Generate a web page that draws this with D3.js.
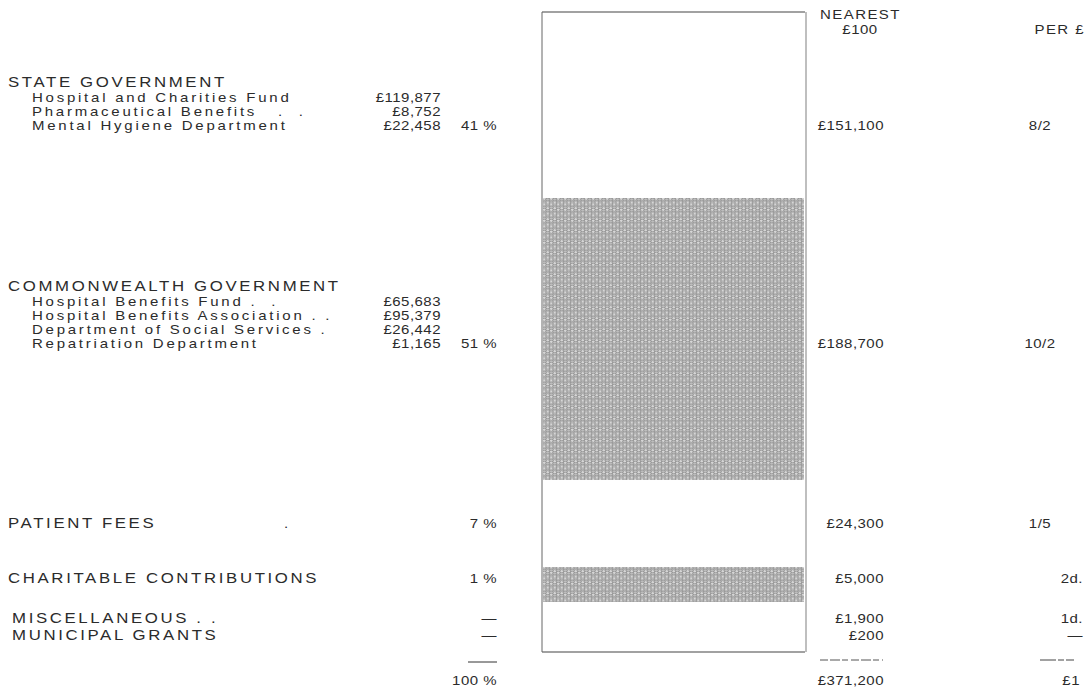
<!DOCTYPE html>
<html><head><meta charset="utf-8">
<script src="https://cdn.jsdelivr.net/npm/d3@7/dist/d3.min.js"></script>
<style>
html,body{margin:0;padding:0;background:#fff;}
text{font-family:"Liberation Sans",Arial,sans-serif;fill:#2b2b2b;white-space:pre;}
</style></head><body>
<svg id="c" width="1088" height="693"></svg>
<script>
// ---- data ----
const categories = ["STATE GOVERNMENT","COMMONWEALTH GOVERNMENT","PATIENT FEES","CHARITABLE CONTRIBUTIONS","MISCELLANEOUS . .","MUNICIPAL GRANTS"];
const percents = ["41 %","51 %","7 %","1 %","—","—"];
const amounts = [151100, 188700, 24300, 5000, 1900, 200];
const perPound = ["8/2","10/2","1/5","2d.","1d.","—"];
const shaded = [false, true, false, true, false, false];
const stateItems = ["Hospital and Charities Fund","Pharmaceutical Benefits   .  .","Mental Hygiene Department"];
const stateValues = [119877, 8752, 22458];
const cwItems = ["Hospital Benefits Fund .  .","Hospital Benefits Association . .","Department of Social Services .","Repatriation Department"];
const cwValues = [65683, 95379, 26442, 1165];
const totalLabels = ["100 %", "£371,200", "£1"];
const headers = ["NEAREST", "£100", "PER £"];

// ---- layout ----
const svg = d3.select("#c");
const fmt = d3.format(",");
const X = {head:8, sub:32, subAmt:441, pct:497, barL:542, barR:805, amt:884, slash:1040, perR:1083};
const catY = [87, 291, 528, 583, 623, 639.5];
const lineH = 14;
const SX = 1.2; // wide letterforms

// piecewise scale for the (non-proportional) stacked column
const cum = [0]; amounts.forEach(v => cum.push(cum[cum.length-1] + v));
const y = d3.scaleLinear()
  .domain([cum[0], cum[1], cum[2], cum[3], cum[4], cum[6]])
  .range([12, 198, 480, 567, 602, 652]);

// pattern
const defs = svg.append("defs");
const pat = defs.append("pattern").attr("id","knit").attr("patternUnits","userSpaceOnUse")
  .attr("width",7).attr("height",5.5);
pat.append("rect").attr("width",7).attr("height",5.5).attr("fill","#d6d6d6");
[[1.75,1.375],[5.25,4.125],[-1.75,4.125],[8.75,1.375]].forEach(([cx,cy])=>{
  pat.append("ellipse").attr("cx",cx).attr("cy",cy).attr("rx",2.1).attr("ry",1.5)
    .attr("fill","#c0c0c0").attr("stroke","#858585").attr("stroke-width",0.9);
});

// column segments
const segs = amounts.map((v,i)=>({i, y0:cum[i], y1:cum[i+1]}));
svg.append("g").selectAll("rect").data(segs).join("rect")
  .attr("x", X.barL+1).attr("width", X.barR - X.barL - 2)
  .attr("y", d => y(d.y0)).attr("height", d => y(d.y1) - y(d.y0))
  .attr("fill", d => shaded[d.i] ? "url(#knit)" : "#fff");
// frame
svg.append("line").attr("x1",X.barL).attr("x2",X.barR).attr("y1",y(0)).attr("y2",y(0)).attr("stroke","#444").attr("stroke-width",1.2);
svg.append("line").attr("x1",X.barL).attr("x2",X.barR).attr("y1",y(cum[6])).attr("y2",y(cum[6])).attr("stroke","#444").attr("stroke-width",1.2);
svg.append("line").attr("x1",X.barL).attr("x2",X.barL).attr("y1",y(0)).attr("y2",y(cum[6])).attr("stroke","#666").attr("stroke-width",1);
svg.append("line").attr("x1",X.barR+1).attr("x2",X.barR+1).attr("y1",y(0)).attr("y2",y(cum[6])).attr("stroke","#aaa").attr("stroke-width",1.5);

const STY = {
  caps: {size:14, ls:2.2},
  hdr:  {size:12.5, ls:1.2},
  text: {size:12.5, ls:2.3},
  num:  {size:12.5, ls:0.4}
};
function put(x, yy, str, kind, anchor) {
  const st = STY[kind];
  return svg.append("text")
    .attr("transform", `translate(${x},${yy}) scale(${SX},1)`)
    .attr("text-anchor", anchor || "start")
    .attr("font-size", st.size).attr("letter-spacing", st.ls)
    .text(str);
}

// headers
put(820, 19, headers[0], "hdr");
put(860, 34, headers[1], "num", "middle");
put(1085, 34, headers[2], "hdr", "end");

// category rows
const subs = [[stateItems, stateValues], [cwItems, cwValues]];
categories.forEach((c,i)=>{
  put(i>=4 ? X.head+4 : X.head, catY[i], c, "caps");
  let rowY = catY[i];
  if (subs[i]) {
    const [names, vals] = subs[i];
    names.forEach((n,k)=>{
      const yy = catY[i] + 15 + lineH*k;
      put(X.sub, yy, n, "text");
      put(X.subAmt, yy, "£"+fmt(vals[k]), "num", "end");
    });
    rowY = catY[i] + 15 + lineH*(names.length-1);
  }
  put(X.pct, rowY, percents[i], "num", "end");
  put(X.amt, rowY, "£"+fmt(amounts[i]), "num", "end");
  const p = perPound[i];
  if (p.includes("/")) put(X.slash, rowY, p, "num", "middle");
  else put(X.perR, rowY, p, "num", "end");
});
// patient fees leader dot
put(284, catY[2], ".", "text");

// total rules
svg.append("line").attr("x1",468).attr("x2",X.pct).attr("y1",662).attr("y2",662).attr("stroke","#333").attr("stroke-width",1);
svg.append("line").attr("x1",820).attr("x2",X.amt-1).attr("y1",660).attr("y2",660).attr("stroke","#555").attr("stroke-width",1).attr("stroke-dasharray","8,2,10,2,6,3");
svg.append("line").attr("x1",1040).attr("x2",X.perR+2).attr("y1",660).attr("y2",660).attr("stroke","#444").attr("stroke-width",1).attr("stroke-dasharray","16,2,6,2,8");
put(X.pct, 685, totalLabels[0], "num", "end");
put(X.amt, 685, totalLabels[1], "num", "end");
put(1080, 685, totalLabels[2], "num", "end");
</script>
</body></html>
